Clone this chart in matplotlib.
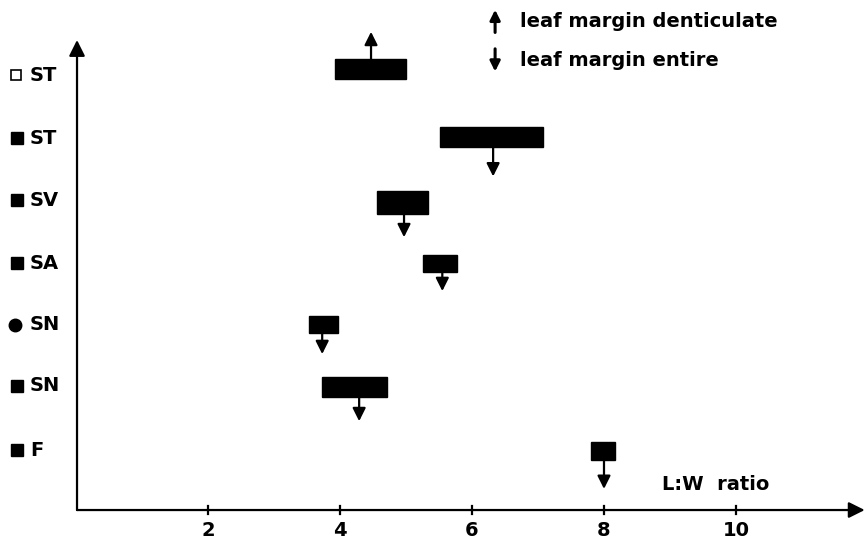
import matplotlib
matplotlib.use('Agg')
import matplotlib.pyplot as plt

FONT = 'DejaVu Sans'
LW = 1.6

# leaf length:width ratio ranges per taxon
taxa = ['ST', 'ST', 'SV', 'SA', 'SN', 'SN', 'F']
symbols = ['open', 'square', 'square', 'square', 'circle', 'square', 'square']
ratio_min = [3.92, 5.52, 4.56, 5.26, 3.53, 3.73, 7.80]
ratio_max = [5.00, 7.07, 5.33, 5.77, 3.97, 4.71, 8.17]
ratio_mid = [4.47, 6.32, 4.97, 5.55, 3.73, 4.29, 8.00]
margin = ['denticulate', 'entire', 'entire', 'entire', 'entire', 'entire', 'entire']
xticks = [2, 4, 6, 8, 10]

rows = [7.0, 5.92, 4.88, 3.91, 2.94, 1.95, 0.94]
bar_h = [0.32, 0.33, 0.36, 0.27, 0.27, 0.32, 0.29]
arrow_len = [0.43, 0.46, 0.37, 0.30, 0.33, 0.38, 0.46]

fig = plt.figure(figsize=(8.66, 5.46), dpi=100)
ax = fig.add_axes([0, 0, 1, 1])
ax.set_xlim(-1.152, 11.97)
ax.set_ylim(-0.571, 8.095)
ax.axis('off')

def arrow(x0, y0, x1, y1, ms=13, lw=LW):
    ax.annotate('', xy=(x1, y1), xytext=(x0, y0),
                arrowprops=dict(arrowstyle='-|>,head_length=0.6,head_width=0.3',
                                color='black', lw=lw, mutation_scale=ms,
                                shrinkA=0, shrinkB=0))

# axes with arrowheads
arrow(0.015, 0, 11.95, 0, ms=16)
arrow(0.015, 0, 0.015, 7.46, ms=16)
for t in xticks:
    ax.plot([t, t], [-0.07, 0.07], color='black', lw=LW)
    ax.text(t, -0.33, str(t), ha='center', va='center', fontsize=14,
            fontweight='bold', family=FONT)

# bars and margin arrows
for i in range(len(taxa)):
    y = rows[i]
    h = bar_h[i]
    ax.barh(y, ratio_max[i] - ratio_min[i], left=ratio_min[i], height=h,
            color='black', edgecolor='black')
    if margin[i] == 'denticulate':
        arrow(ratio_mid[i], y + h / 2, ratio_mid[i], y + h / 2 + arrow_len[i])
    else:
        arrow(ratio_mid[i], y - h / 2, ratio_mid[i], y - h / 2 - arrow_len[i])

# row labels with symbols
label_y = [6.9, 5.9, 4.92, 3.92, 2.94, 1.97, 0.95]
for i, name in enumerate(taxa):
    y = label_y[i]
    if symbols[i] == 'open':
        ax.plot(-0.91, y, marker='s', ms=7.5, mfc='white', mec='black', mew=1.2)
    elif symbols[i] == 'circle':
        ax.plot(-0.92, y, marker='o', ms=9, color='black')
    else:
        ax.plot(-0.90, y, marker='s', ms=9, color='black')
    ax.text(-0.70, y, name, ha='left', va='center', fontsize=14,
            fontweight='bold', family=FONT)

# key
arrow(6.35, 7.58, 6.35, 7.94, ms=10, lw=2.2)
ax.text(6.72, 7.76, 'leaf margin denticulate', ha='left', va='center',
        fontsize=14, fontweight='bold', family=FONT)
arrow(6.35, 7.32, 6.35, 6.96, ms=10, lw=2.2)
ax.text(6.72, 7.14, 'leaf margin entire', ha='left', va='center',
        fontsize=14, fontweight='bold', family=FONT)

ax.text(8.88, 0.40, 'L:W  ratio', ha='left', va='center', fontsize=14,
        fontweight='bold', family=FONT)

fig.savefig('out.png', dpi=100, facecolor='white')
